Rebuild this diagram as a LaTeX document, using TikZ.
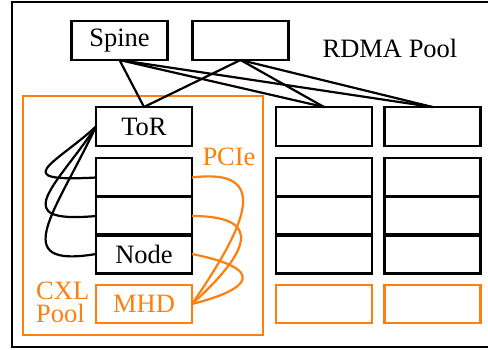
\documentclass[tikz,border=0pt]{standalone}
\usepackage{fontspec}
\setmainfont{Liberation Serif}
\definecolor{cxlorange}{RGB}{255,127,14}
\begin{document}
\begin{tikzpicture}[x=1pt,y=-1pt,
  every node/.style={font=\fontsize{26.5}{27}\selectfont},
  blk/.style={draw=black,line width=2.2pt,minimum width=96pt,minimum height=39pt,inner sep=0pt,outer sep=0pt},
  obox/.style={draw=cxlorange,line width=2.2pt,minimum width=96pt,minimum height=38pt,inner sep=0pt,outer sep=0pt,text=cxlorange},
  link/.style={draw=black,line width=2.2pt},
  olink/.style={draw=cxlorange,line width=2.2pt},
  olabel/.style={text=cxlorange,inner sep=0pt,anchor=base west}]
\useasboundingbox (0,0) rectangle (488,349);
% outer RDMA pool frame (right edge lies beyond the picture)
\draw[line width=2.4pt] (498,2) -- (12,2) -- (12,347) -- (498,347);
% CXL pool frame
\draw[cxlorange,line width=2.2pt] (23,96) rectangle (263,335);
% spines
\node[blk] (sp1) at (119.5,40.5) {Spine};
\node[blk] (sp2) at (240.5,40.5) {};
\node (rdma) at (390,48) {RDMA Pool};
% left column
\node[blk] (tor) at (144,126.5) {ToR};
\node[blk] (n1) at (144,177.5) {};
\node[blk] (n2) at (144,216) {};
\node[blk] (n3) at (144,254) {Node};
\node[obox] (mhd) at (144,304) {MHD};
\node[text=cxlorange] (pcie) at (229,157) {PCIe};
\node[olabel] (cxl) at (36,299) {CXL};
\node[olabel] (pool) at (36,322) {Pool};
% middle column
\node[blk] (tb) at (324,126.5) {};
\node[blk] (b1) at (324,177.5) {};
\node[blk] (b2) at (324,216) {};
\node[blk] (b3) at (324,254) {};
\node[obox] (bm) at (324,304) {};
% right column
\node[blk] (tc) at (432.5,126.5) {};
\node[blk] (c1) at (432.5,177.5) {};
\node[blk] (c2) at (432.5,216) {};
\node[blk] (c3) at (432.5,254) {};
\node[obox] (cm) at (432.5,304) {};
% spine links
\foreach \s in {sp1,sp2}{
  \foreach \t in {tor,tb,tc}{
    \draw[link] (\s.south) -- (\t.north);
  }
}
% ToR to node loops
\draw[link] (tor.west) .. controls +(-40,37) and +(-90,5) .. (n1.west);
\draw[link] (tor.west) .. controls +(-40,60) and +(-90,8) .. (n2.west);
\draw[link] (tor.west) .. controls +(-40,85) and +(-90,15) .. (n3.west);
% PCIe links to MHD
\draw[olink] (n1.east) .. controls +(80,-10) and +(55,-80) .. (mhd.east);
\draw[olink] (n2.east) .. controls +(75,0) and +(55,-50) .. (mhd.east);
\draw[olink] (n3.east) .. controls +(75,15) and +(60,-15) .. (mhd.east);
\end{tikzpicture}
\end{document}
